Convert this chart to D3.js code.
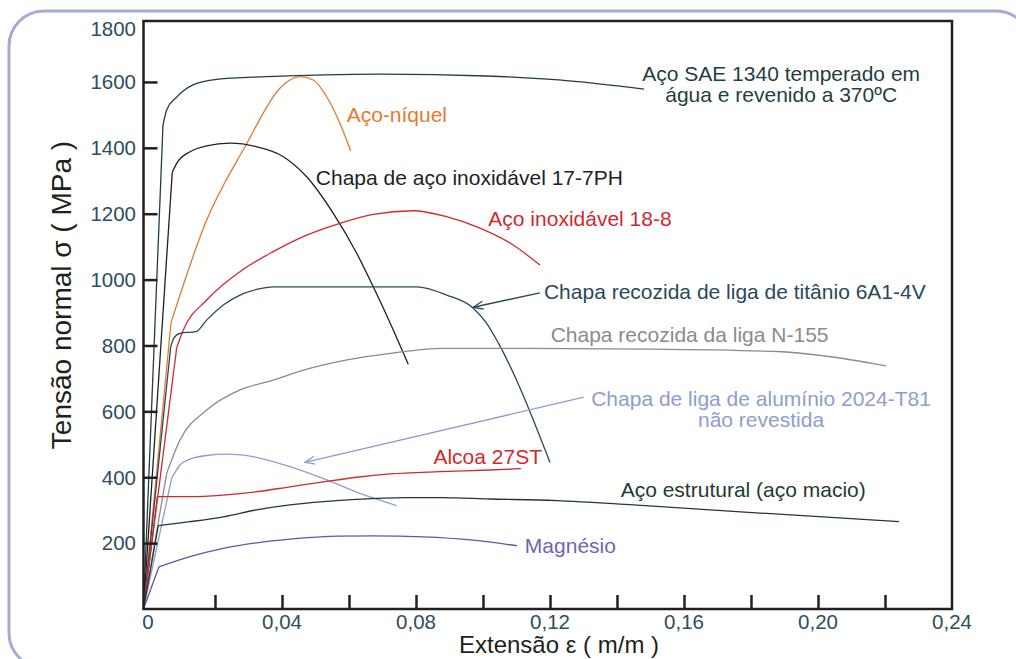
<!DOCTYPE html>
<html>
<head>
<meta charset="utf-8">
<script src="https://cdn.jsdelivr.net/npm/d3@7"></script>
<style>
body { margin: 0; background: #fff; }
svg { display: block; font-family: "Liberation Sans", Arial, sans-serif; }
</style>
</head>
<body>
<svg id="chart" width="1016" height="659"></svg>
<script>
// axis values
const xTicks = [0.02, 0.04, 0.06, 0.08, 0.10, 0.12, 0.14, 0.16, 0.18, 0.20, 0.22];
const xLabels = [0, 0.04, 0.08, 0.12, 0.16, 0.20, 0.24];
const yTicks = [200, 400, 600, 800, 1000, 1200, 1400, 1600];
const yLabels = [200, 400, 600, 800, 1000, 1200, 1400, 1600, 1800];

// curves: [strain, stress MPa]; first point = origin, second = end of elastic part
const sae1340 = [[-0.00134,0],[0.00448,1469],[0.00558,1515],[0.00857,1554],[0.01343,1591],[0.0205,1608],[0.0354,1616],[0.0693,1624],[0.1012,1618],[0.1226,1606],[0.1481,1578]];
const acoNiquel = [[-0.00134,0],[0.00687,869],[0.01752,1181],[0.029,1404],[0.0394,1581],[0.04239,1606],[0.04537,1616],[0.04934,1606],[0.05334,1555],[0.05731,1474],[0.06051,1391]];
const inox177 = [[-0.00134,0],[0.00725,1326],[0.00857,1353],[0.01254,1388],[0.01752,1406],[0.02448,1414],[0.03245,1403],[0.04039,1373],[0.04737,1312],[0.05531,1201],[0.0623,1080],[0.06725,978],[0.07322,847],[0.0777,743]];
const inox188 = [[-0.00134,0],[0.00857,793],[0.01054,847],[0.01752,938],[0.02746,1024],[0.0374,1085],[0.04737,1135],[0.05731,1171],[0.06725,1198],[0.0792,1209],[0.08916,1191],[0.0991,1156],[0.109,1105],[0.117,1044]];
const titanio = [[-0.00134,0],[0.00678,796],[0.00776,823],[0.00955,837],[0.01433,842],[0.01752,877],[0.02248,923],[0.02746,953],[0.03245,970],[0.0374,978],[0.0802,978],[0.08916,953],[0.0971,913],[0.1011,867],[0.1046,807],[0.12,445]];
const n155 = [[-0.00134,0],[0.00558,412],[0.00955,513],[0.01752,604],[0.02746,665],[0.0374,695],[0.04642,725],[0.0594,756],[0.07236,776],[0.08794,791],[0.1113,791],[0.1502,789],[0.1892,781],[0.2021,768],[0.2203,738]];
const aluminio = [[-0.00134,0],[0.00707,397],[0.00955,437],[0.01254,455],[0.01752,466],[0.02349,470],[0.03045,464],[0.04239,432],[0.05334,392],[0.06328,351],[0.07424,314]];
const alcoa = [[-0.00134,0],[0.00278,341],[0.01254,341],[0.02248,346],[0.03245,356],[0.04239,371],[0.05233,386],[0.0623,400],[0.07224,410],[0.08716,417],[0.1021,422],[0.1113,426]];
const estrutural = [[-0.00134,0],[0.00307,253],[0.01254,265],[0.02248,280],[0.03245,301],[0.04239,316],[0.05233,326],[0.0623,333],[0.07722,338],[0.08716,338],[0.1021,334],[0.122,329],[0.1449,316],[0.1847,290],[0.2242,265]];
const magnesio = [[-0.00134,0],[0.00328,128],[0.01254,159],[0.02248,184],[0.03245,201],[0.04239,212],[0.05731,221],[0.06725,222],[0.08218,219],[0.0971,209],[0.1101,192]];

const curves = [
  { data: sae1340, color: "#1f3f3f" },
  { data: acoNiquel, color: "#e27b2f" },
  { data: inox177, color: "#231f20" },
  { data: inox188, color: "#d2282e" },
  { data: titanio, color: "#27495a" },
  { data: n155, color: "#8b8b8b" },
  { data: aluminio, color: "#8e9dd1" },
  { data: alcoa, color: "#d2282e" },
  { data: estrutural, color: "#1e3b31" },
  { data: magnesio, color: "#5f56aa" }
];

// callout arrows [from, to]
const arrows = [
  { from: [0.117, 960], to: [0.0971, 916], color: "#27495a" },
  { from: [0.1301, 643], to: [0.04687, 445], color: "#8e9dd1" }
];

// labels, anchored in data coordinates
const notes = [
  { lines: ["Aço SAE 1340 temperado em", "água e revenido a 370ºC"], at: [0.189, 1603], anchor: "middle", color: "#1f3f3f" },
  { lines: ["Aço-níquel"], at: [0.0593, 1478], anchor: "start", color: "#e27b2f" },
  { lines: ["Chapa de aço inoxidável 17-7PH"], at: [0.0501, 1287], anchor: "start", color: "#231f20" },
  { lines: ["Aço inoxidável 18-8"], at: [0.1016, 1163], anchor: "start", color: "#d2282e" },
  { lines: ["Chapa recozida de liga de titânio 6A1-4V"], at: [0.1182, 941], anchor: "start", color: "#27495a" },
  { lines: ["Chapa recozida da liga N-155"], at: [0.1202, 811], anchor: "start", color: "#8b8b8b" },
  { lines: ["Chapa de liga de alumínio 2024-T81", "não revestida"], at: [0.183, 616], anchor: "middle", color: "#8e9dd1" },
  { lines: ["Alcoa 27ST"], at: [0.0852, 440], anchor: "start", color: "#d2282e" },
  { lines: ["Aço estrutural (aço macio)"], at: [0.1411, 341], anchor: "start", color: "#1e3b31" },
  { lines: ["Magnésio"], at: [0.1125, 169], anchor: "start", color: "#6d66b5" }
];

const svg = d3.select("#chart");

const x = d3.scaleLinear().domain([-0.00134, 0.24]).range([143.5, 952]);
const y = d3.scaleLinear().domain([0, 1785]).range([609, 21]);
const axisColor = "#231f20";
const tickTextColor = "#2e4e5e";

// outer rounded frame (runs off the right and bottom edges)
svg.append("rect")
  .attr("x", 9).attr("y", 11)
  .attr("width", 1022).attr("height", 657)
  .attr("rx", 35)
  .attr("fill", "none")
  .attr("stroke", "#a3acd6")
  .attr("stroke-width", 3);

// arrow marker
svg.append("defs").selectAll("marker")
  .data(arrows)
  .enter().append("marker")
    .attr("id", (d, i) => "head" + i)
    .attr("markerUnits", "userSpaceOnUse")
    .attr("viewBox", "-12 -6 14 12")
    .attr("markerWidth", 14).attr("markerHeight", 12)
    .attr("refX", 0).attr("refY", 0)
    .attr("orient", "auto")
  .append("path")
    .attr("d", "M-10,-4L0,0L-10,4")
    .attr("fill", "none")
    .attr("stroke", d => d.color)
    .attr("stroke-width", 1.3);

// curves: elastic part straight, rest smooth
const straight = d3.line().x(d => x(d[0])).y(d => y(d[1]));
const smooth = d3.line().x(d => x(d[0])).y(d => y(d[1])).curve(d3.curveMonotoneX);

const curveG = svg.append("g");
curves.forEach(function(c) {
  curveG.append("path")
    .attr("d", straight(c.data.slice(0, 2)))
    .attr("fill", "none").attr("stroke", c.color).attr("stroke-width", 1.3);
  curveG.append("path")
    .attr("d", smooth(c.data.slice(1)))
    .attr("fill", "none").attr("stroke", c.color).attr("stroke-width", 1.3);
});

// arrows
svg.append("g").selectAll("line")
  .data(arrows)
  .enter().append("line")
    .attr("x1", d => x(d.from[0])).attr("y1", d => y(d.from[1]))
    .attr("x2", d => x(d.to[0])).attr("y2", d => y(d.to[1]))
    .attr("stroke", d => d.color)
    .attr("stroke-width", 1.3)
    .attr("marker-end", (d, i) => "url(#head" + i + ")");

// labels
const noteG = svg.append("g");
notes.forEach(function(n) {
  let t = noteG.append("text")
    .attr("x", x(n.at[0])).attr("y", y(n.at[1]))
    .attr("text-anchor", n.anchor)
    .attr("fill", n.color)
    .style("font-size", "21px");
  n.lines.forEach(function(line, i) {
    t.append("tspan")
      .attr("x", x(n.at[0]))
      .attr("dy", i === 0 ? 0 : 21)
      .text(line);
  });
});

// plot frame
const [x0, x1] = x.range();
const [y0, y1] = y.range();
svg.append("rect")
  .attr("x", x0).attr("y", y1)
  .attr("width", x1 - x0).attr("height", y0 - y1)
  .attr("fill", "none")
  .attr("stroke", axisColor)
  .attr("stroke-width", 2.5);

// ticks pointing inwards
const xAxis = d3.axisTop(x).tickValues(xTicks).tickSize(14).tickFormat("");
svg.append("g")
  .attr("transform", "translate(0," + y0 + ")")
  .call(xAxis)
  .call(g => g.select(".domain").remove())
  .call(g => g.selectAll("line").attr("stroke", axisColor).attr("stroke-width", 2.5));

const yAxis = d3.axisRight(y).tickValues(yTicks).tickSize(14).tickFormat("");
svg.append("g")
  .attr("transform", "translate(" + x0 + ",0)")
  .call(yAxis)
  .call(g => g.select(".domain").remove())
  .call(g => g.selectAll("line").attr("stroke", axisColor).attr("stroke-width", 2.5));

// tick labels
svg.append("g").selectAll("text")
  .data(xLabels)
  .enter().append("text")
    .attr("x", d => x(d))
    .attr("y", 629)
    .attr("text-anchor", "middle")
    .attr("fill", tickTextColor)
    .style("font-size", "20.5px")
    .text(d => d === 0 ? "0" : d.toFixed(2).replace(".", ","));

svg.append("g").selectAll("text")
  .data(yLabels)
  .enter().append("text")
    .attr("x", 136)
    .attr("y", d => Math.max(y(d), y1 + 8))
    .attr("dy", "0.36em")
    .attr("text-anchor", "end")
    .attr("fill", tickTextColor)
    .style("font-size", "20.5px")
    .text(d => d);

// axis titles
svg.append("text")
  .attr("x", 559)
  .attr("y", 653)
  .attr("text-anchor", "middle")
  .attr("fill", axisColor)
  .style("font-size", "24px")
  .text("Extensão ε ( m/m )");

svg.append("text")
  .attr("transform", "translate(71,295) rotate(-90)")
  .attr("text-anchor", "middle")
  .attr("fill", axisColor)
  .style("font-size", "28px")
  .text("Tensão normal σ ( MPa )");
</script>
</body>
</html>
